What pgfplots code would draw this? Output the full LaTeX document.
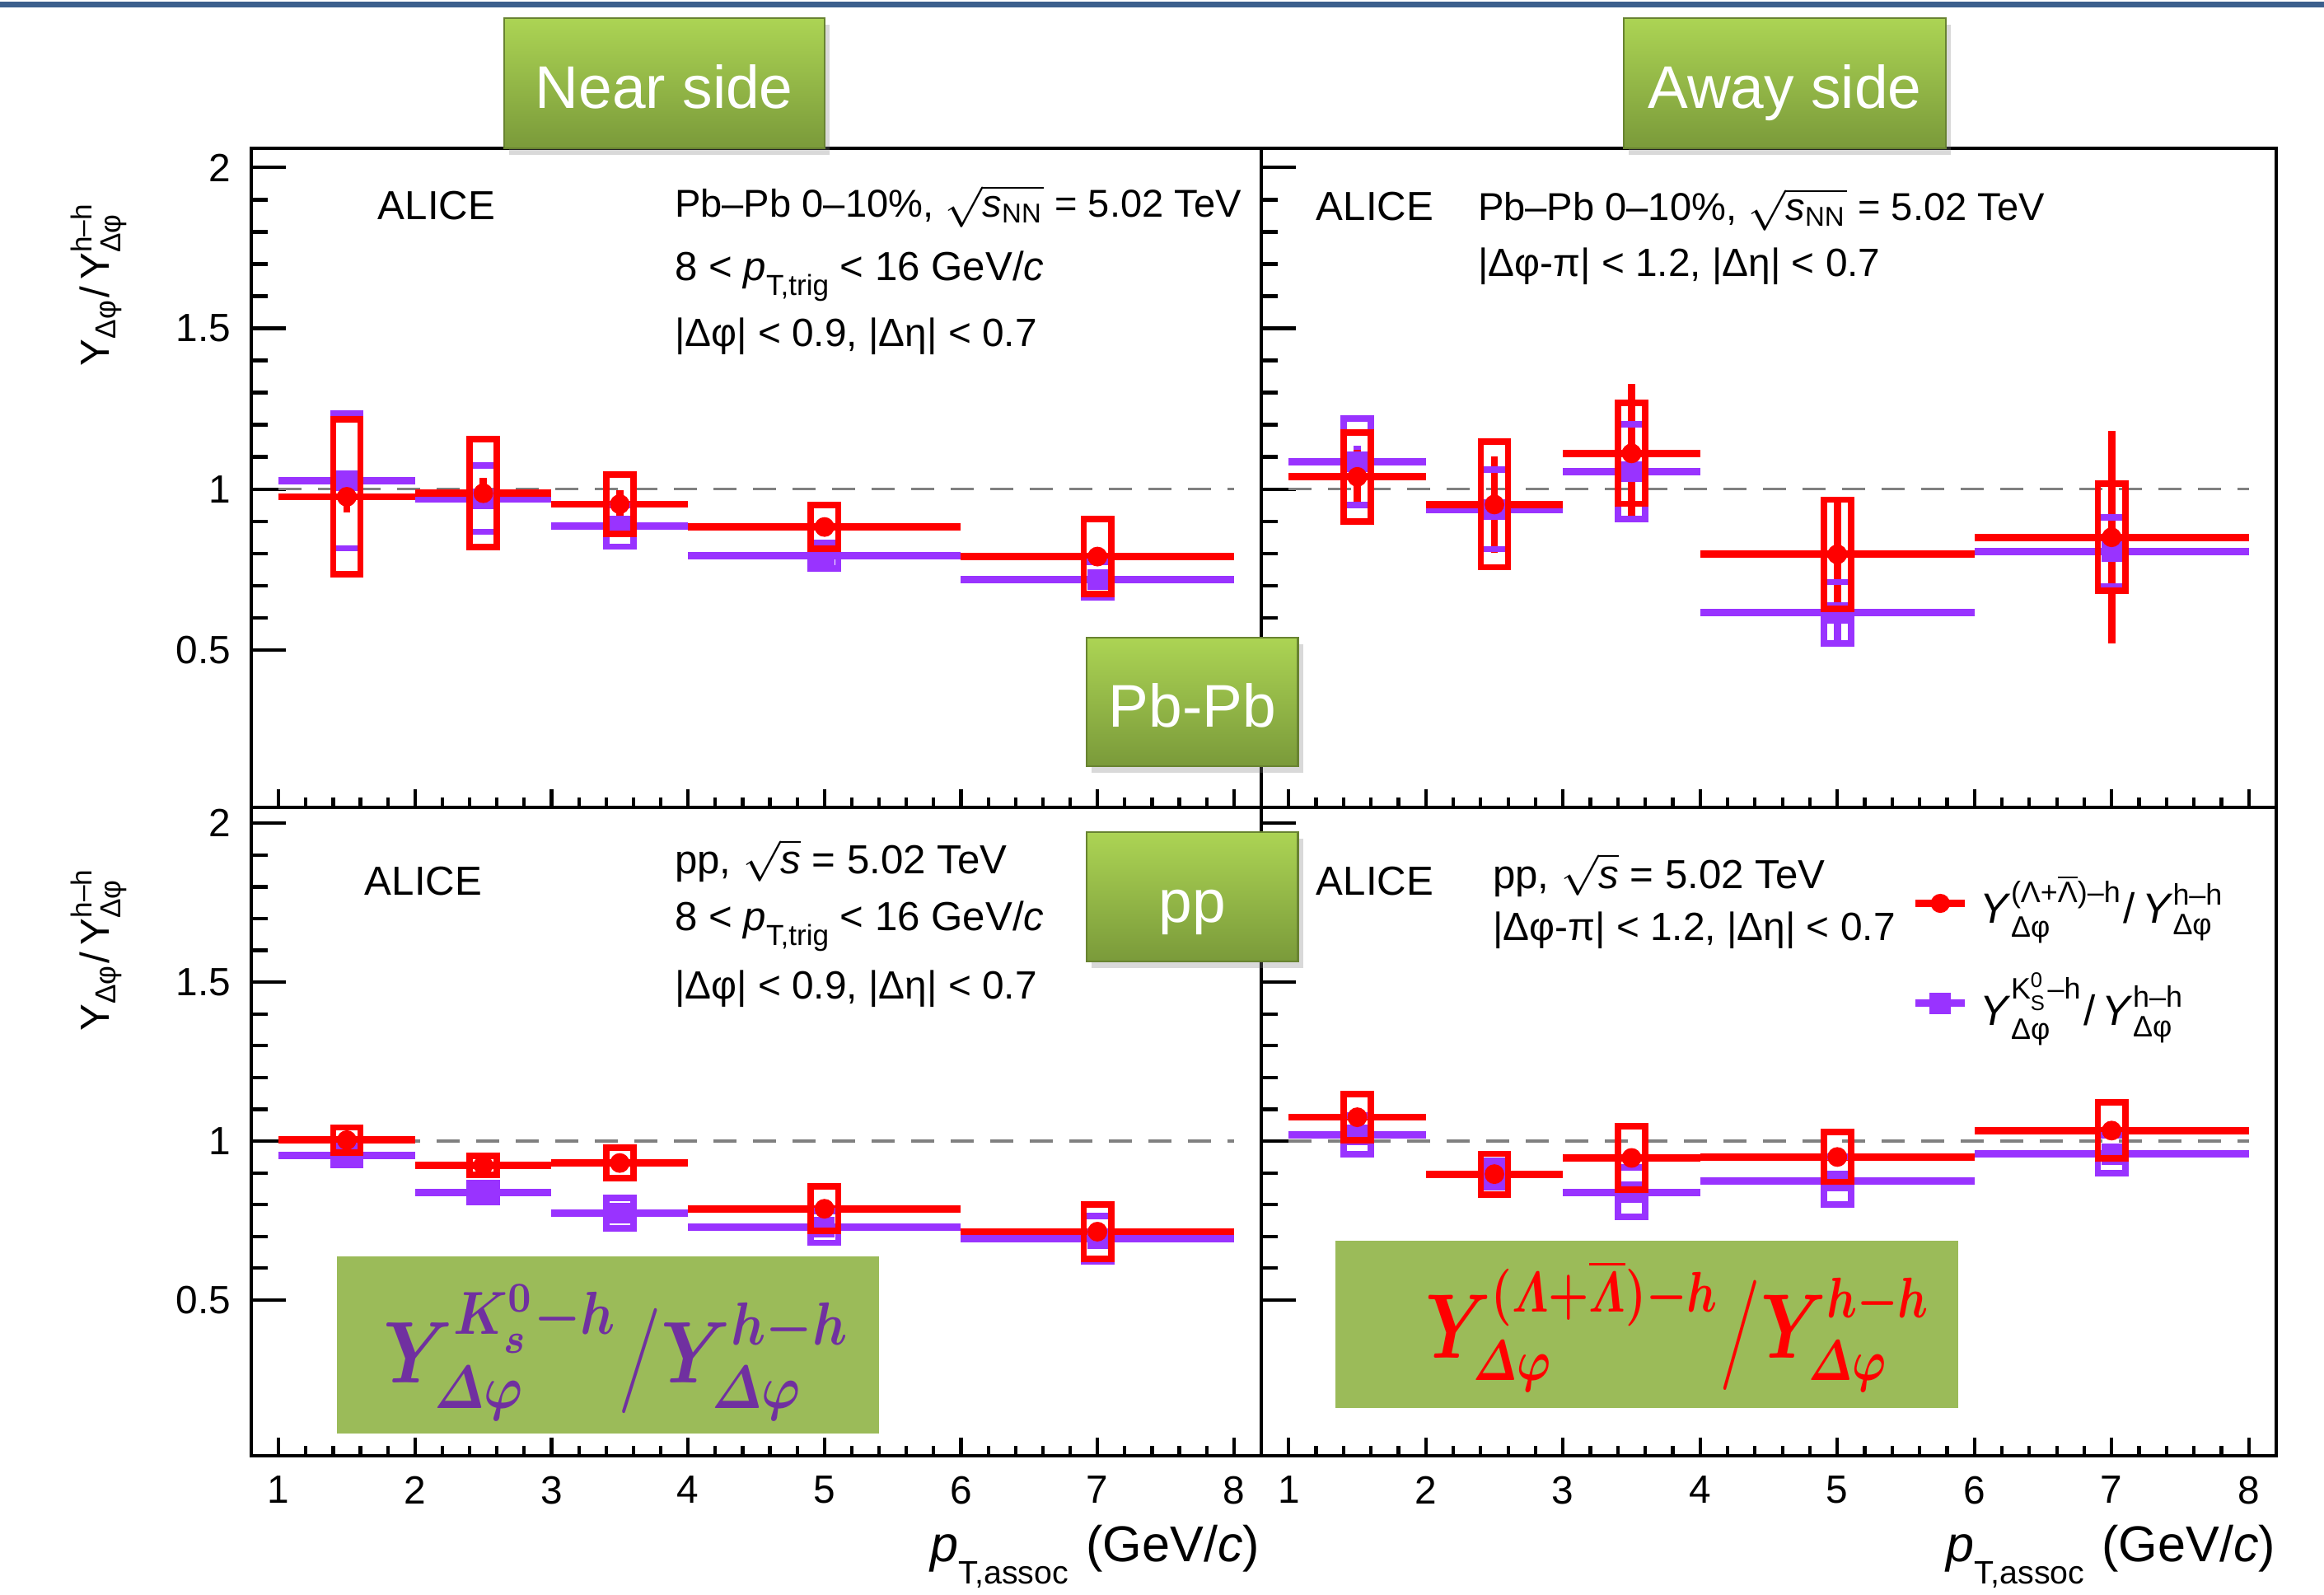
\documentclass[border=0pt]{standalone}
\usepackage{pgfplots}
\pgfplotsset{compat=1.18}
\usepackage{pgfplotstable}
\usepackage{graphicx}
\usepackage{amsmath}
\usepackage{bm}
\usepackage{fontspec}
\setmainfont{Liberation Sans}
\usetikzlibrary{shadows}

\definecolor{lamred}{RGB}{255,0,0}
\definecolor{kvio}{RGB}{153,51,255}
\definecolor{boxgreen}{RGB}{155,187,89}
\definecolor{txtpurple}{RGB}{112,48,160}
\definecolor{tabtop}{RGB}{172,212,84}
\definecolor{tabbot}{RGB}{122,154,58}
\definecolor{slideblue}{RGB}{60,95,141}

% columns: bin centre, half bin width, ratio, stat. error, syst. error
\pgfplotstableread{
x   xe  y     stat  sys
1.5 0.5 0.976 0.050 0.240
2.5 0.5 0.987 0.047 0.168
3.5 0.5 0.953 0.044 0.093
5   1   0.882 0.022 0.068
7   1   0.790 0.020 0.117
}\lamPbNear
\pgfplotstableread{
x   xe  y     stat  sys
1.5 0.5 1.026 0.030 0.210
2.5 0.5 0.970 0.030 0.103
3.5 0.5 0.885 0.025 0.064
5   1   0.793 0.020 0.040
7   1   0.718 0.020 0.055
}\kPbNear
\pgfplotstableread{
x   xe  y     stat  sys
1.5 0.5 1.038 0.084 0.138
2.5 0.5 0.952 0.150 0.195
3.5 0.5 1.111 0.215 0.157
5   1   0.797 0.160 0.170
7   1   0.850 0.330 0.167
}\lamPbAway
\pgfplotstableread{
x   xe  y     stat  sys
1.5 0.5 1.085 0.050 0.134
2.5 0.5 0.937 0.100 0.124
3.5 0.5 1.054 0.100 0.148
5   1   0.615 0.090 0.096
7   1   0.805 0.100 0.107
}\kPbAway
\pgfplotstableread{
x   xe  y     stat  sys
1.5 0.5 1.003 0.010 0.040
2.5 0.5 0.924 0.010 0.030
3.5 0.5 0.931 0.012 0.048
5   1   0.787 0.015 0.070
7   1   0.715 0.015 0.085
}\lamppNear
\pgfplotstableread{
x   xe  y     stat  sys
1.5 0.5 0.954 0.008 0.030
2.5 0.5 0.839 0.008 0.030
3.5 0.5 0.774 0.010 0.048
5   1   0.730 0.010 0.050
7   1   0.693 0.010 0.072
}\kppNear
\pgfplotstableread{
x   xe  y     stat  sys
1.5 0.5 1.075 0.012 0.072
2.5 0.5 0.896 0.012 0.064
3.5 0.5 0.947 0.015 0.099
5   1   0.950 0.015 0.078
7   1   1.033 0.015 0.088
}\lamppAway
\pgfplotstableread{
x   xe  y     stat  sys
1.5 0.5 1.019 0.010 0.061
2.5 0.5 0.896 0.010 0.041
3.5 0.5 0.839 0.012 0.078
5   1   0.875 0.012 0.075
7   1   0.959 0.012 0.060
}\kppAway

% systematic box: height from the sys column, y unit set per row of panels
\def\yunit{1.9512cm}
\pgfdeclareplotmark{sysbox}{%
  \pgfmathsetlengthmacro\sysh{\sysval*\yunit}%
  \pgfpathrectangle{\pgfpoint{-0.083cm}{-\sysh}}{\pgfpoint{0.166cm}{2*\sysh}}%
  \pgfusepathqstroke}

\pgfplotsset{
  panel/.style={
    scale only axis, anchor=south west,
    xmin=0.8, xmax=8.2, ymin=0.01,
    xtick={1,2,3,4,5,6,7,8}, ytick={0.5,1,1.5,2},
    minor x tick num=4, minor y tick num=4,
    tick pos=left, tick align=inside,
    axis line style={line width=0.65pt},
    every tick/.style={black, line width=0.6pt},
    xtick style={/pgfplots/major tick length=0.11cm, /pgfplots/minor tick length=0.06cm},
    ytick style={/pgfplots/major tick length=0.21cm, /pgfplots/minor tick length=0.1cm},
    tick label style={font=\fontsize{6.8}{8}\selectfont},
    /pgf/number format/assume math mode=true,
  },
  refline/.style={forget plot, black!50, line width=0.45pt, dash pattern=on 0.14cm off 0.1cm},
  sys/.style={forget plot, only marks, mark=sysbox, color=#1,
    mark options={line width=1.1pt},
    visualization depends on={\thisrow{sys}\as\sysval}},
  dat/.style={forget plot, only marks, color=#1, mark size=1.5pt,
    error bars/x dir=both, error bars/x explicit,
    error bars/y dir=both, error bars/y explicit,
    error bars/error mark=none,
    error bars/error bar style={line width=1.25pt}},
}

\newcommand\panelplots[2]{%
  \addplot[refline] coordinates {(1,1) (8,1)};
  \addplot[sys=kvio] table[x=x,y=y] {#1};
  \addplot[dat=kvio, mark=square*, mark size=1.6pt] table[x=x,y=y,x error=xe,y error=stat] {#1};
  \addplot[sys=lamred] table[x=x,y=y] {#2};
  \addplot[dat=lamred, mark=*] table[x=x,y=y,x error=xe,y error=stat] {#2};
}

\newcommand\px[2]{({(#1)*0.005},{9.68-(#2)*0.005})}
\newcommand\greentab[5]{%
  \path[drop shadow={opacity=0.3, shadow xshift=0.03cm, shadow yshift=-0.04cm},
    top color=tabtop, bottom color=tabbot, draw=tabbot!85!black, line width=0.3pt]
    \px{#1}{#2} rectangle \px{#3}{#4};
  \node[white, anchor=base, inner sep=0pt, font=\fontsize{10.4}{12}\selectfont] at \px{(#1+#3)/2}{#2+109} {#5};}

\newcommand\sqs{$\sqrt{\text{\itshape s}}$}
\newcommand\sqsnn{$\sqrt{\text{\itshape s}_{\text{NN}}}$}
\newcommand\dphi{\text{Δφ}}
\newcommand\ylab{Y$_{\dphi}$/\,Y$^{\text{h–h}}_{\dphi}$}

\begin{document}
\begin{tikzpicture}
\useasboundingbox (0,0) rectangle (14.105,9.68);
\fill[slideblue] \px{0}{2} rectangle \px{2821}{9};

\def\yunit{1.9512cm}
\begin{axis}[panel, at={(1.525cm,4.78cm)}, width=6.13cm, height=4.0cm, ymax=2.06, xticklabels={}]
\panelplots{\kPbNear}{\lamPbNear}
\end{axis}
\begin{axis}[panel, at={(7.655cm,4.78cm)}, width=6.16cm, height=4.0cm, ymax=2.06, xticklabels={}, yticklabels={}]
\panelplots{\kPbAway}{\lamPbAway}
\end{axis}

\def\yunit{1.9289cm}
\begin{axis}[panel, at={(1.525cm,0.845cm)}, width=6.13cm, height=3.935cm, ymax=2.05]
\panelplots{\kppNear}{\lamppNear}
\end{axis}
\begin{axis}[panel, at={(7.655cm,0.845cm)}, width=6.16cm, height=3.935cm, ymax=2.05, yticklabels={},
  legend style={at={(axis description cs:0.64,0.915)}, anchor=north west, draw=none, fill=none,
    font=\fontsize{7.3}{8}\selectfont, row sep=0.11cm, inner sep=0pt},
  legend cell align=left,
  legend image code/.code={\draw[mark repeat=2, mark phase=2, #1] plot coordinates {(0cm,0cm) (0.15cm,0cm) (0.3cm,0cm)};}]
\panelplots{\kppAway}{\lamppAway}
\addlegendimage{lamred, line width=1.25pt, mark=*, mark size=1.5pt, mark options={line width=0.3pt}}
\addlegendentry{\textit{Y}$^{\text{(Λ+}\overline{\text{Λ}}\text{)–h}}_{\dphi}$/\,\textit{Y}$^{\text{h–h}}_{\dphi}$}
\addlegendimage{kvio, line width=1.25pt, mark=square*, mark size=1.7pt, mark options={line width=0.3pt}}
\addlegendentry{\textit{Y}$^{\text{K}^{\text{0}}_{\text{S}}\text{–h}}_{\dphi}$/\,\textit{Y}$^{\text{h–h}}_{\dphi}$}
\end{axis}

% axis titles
\node[rotate=90, font=\fontsize{7}{8}\selectfont] at \px{120}{344} {\ylab};
\node[rotate=90, font=\fontsize{7}{8}\selectfont] at \px{120}{1151} {\ylab};
\node[anchor=base east, inner sep=0pt, font=\fontsize{8.7}{10}\selectfont] at \px{1529}{1894}
  {\textit{p}\raisebox{-3.8pt}{\fontsize{5.6}{6}\selectfont T,assoc}\hspace{0.35em}(GeV/\textit{c})};
\node[anchor=base east, inner sep=0pt, font=\fontsize{8.7}{10}\selectfont] at \px{2761}{1894}
  {\textit{p}\raisebox{-3.8pt}{\fontsize{5.6}{6}\selectfont T,assoc}\hspace{0.35em}(GeV/\textit{c})};

% panel texts
\begin{scope}[every node/.style={anchor=base west, inner sep=0pt, font=\fontsize{7}{8}\selectfont}]
\node at \px{457}{266} {ALICE};
\node[font=\fontsize{6.7}{8}\selectfont] at \px{817}{263} {Pb–Pb 0–10\%, \sqsnn{} = 5.02 TeV};
\node at \px{817}{340} {8 < \textit{p}\raisebox{-2.6pt}{\fontsize{5}{6}\selectfont T,trig} < 16 GeV/\textit{c}};
\node[font=\fontsize{6.8}{8}\selectfont] at \px{817}{420} {|Δφ| < 0.9, |Δη| < 0.7};
\node at \px{1595}{267} {ALICE};
\node[font=\fontsize{6.7}{8}\selectfont] at \px{1791}{267} {Pb–Pb 0–10\%, \sqsnn{} = 5.02 TeV};
\node[font=\fontsize{6.8}{8}\selectfont] at \px{1791}{335} {|Δφ-π| < 1.2, |Δη| < 0.7};
\node at \px{441}{1085} {ALICE};
\node at \px{817}{1060} {pp, \sqs{} = 5.02 TeV};
\node at \px{817}{1128} {8 < \textit{p}\raisebox{-2.6pt}{\fontsize{5}{6}\selectfont T,trig} < 16 GeV/\textit{c}};
\node[font=\fontsize{6.8}{8}\selectfont] at \px{817}{1211} {|Δφ| < 0.9, |Δη| < 0.7};
\node at \px{1595}{1085} {ALICE};
\node at \px{1809}{1077} {pp, \sqs{} = 5.02 TeV};
\node[font=\fontsize{6.8}{8}\selectfont] at \px{1809}{1140} {|Δφ-π| < 1.2, |Δη| < 0.7};
\end{scope}

% slide annotations
\greentab{611}{22}{1000}{180}{Near side}
\greentab{1969}{22}{2360}{180}{Away side}
\greentab{1318}{773}{1574}{929}{Pb-Pb}
\greentab{1318}{1009}{1574}{1166}{pp}

\fill[boxgreen] \px{409}{1524} rectangle \px{1066}{1738};
\node[txtpurple, font=\fontsize{14}{17}\selectfont] at \px{748}{1640}
  {\scalebox{0.9}[1.05]{$\bm{Y^{K_s^0-h}_{\varDelta\varphi}\big/Y^{h-h}_{\varDelta\varphi}}$}};
\fill[boxgreen] \px{1619}{1505} rectangle \px{2375}{1707};
\node[lamred, font=\fontsize{13.5}{17}\selectfont] at \px{2035}{1608}
  {\scalebox{0.85}[1.1]{$\bm{Y^{(\varLambda+\overline{\varLambda})-h}_{\varDelta\varphi}\big/Y^{h-h}_{\varDelta\varphi}}$}};
\end{tikzpicture}
\end{document}
